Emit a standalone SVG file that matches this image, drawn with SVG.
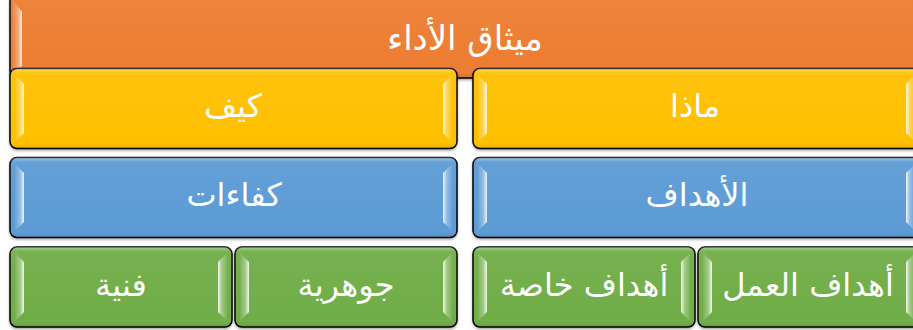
<svg xmlns="http://www.w3.org/2000/svg" width="913" height="330" viewBox="0 0 913 330">
<defs>
<linearGradient id="sheen" x1="0" y1="0" x2="0" y2="1">
<stop offset="0" stop-color="#fff" stop-opacity="0.4"/>
<stop offset="0.06" stop-color="#fff" stop-opacity="0.05"/>
<stop offset="0.9" stop-color="#fff" stop-opacity="0"/>
<stop offset="1" stop-color="#000" stop-opacity="0.12"/>
</linearGradient>
<linearGradient id="bevL" x1="0" y1="0" x2="1" y2="0">
<stop offset="0" stop-color="#fff" stop-opacity="0.05"/>
<stop offset="0.6" stop-color="#fff" stop-opacity="0.35"/>
<stop offset="1" stop-color="#fff" stop-opacity="0.9"/>
</linearGradient>
<linearGradient id="bevR" x1="1" y1="0" x2="0" y2="0">
<stop offset="0" stop-color="#fff" stop-opacity="0.05"/>
<stop offset="0.6" stop-color="#fff" stop-opacity="0.35"/>
<stop offset="1" stop-color="#fff" stop-opacity="0.9"/>
</linearGradient>
<filter id="sh" x="-5%" y="-10%" width="110%" height="130%">
<feDropShadow dx="0" dy="1.5" stdDeviation="1.2" flood-color="#000" flood-opacity="0.35"/>
</filter>
</defs>
<style>
.box{stroke:#000;stroke-width:1.5;filter:url(#sh)}
.orange{fill:#ED7D31}
.yellow{fill:#FFC000}
.blue{fill:#5B9BD5}
.green{fill:#70AD47}
.sheen{fill:url(#sheen);stroke:none}
.bl{fill:url(#bevL)}
.br{fill:url(#bevR)}
text{font-family:"DejaVu Sans","Noto Sans",sans-serif;fill:#fff;text-anchor:middle;dominant-baseline:central}
.t1{font-size:34px}
.t2{font-size:32px}
</style>
<g id="n-top">
<rect class="box orange" x="10" y="-6" width="910" height="84" rx="7"/>
<rect class="sheen" x="10" y="-6" width="910" height="84" rx="7"/>
<polygon class="bl" points="13,0 22,12 22,66 13,74"/>
<text class="t1" x="465" y="38" direction="rtl">ميثاق الأداء</text>
</g>
<g id="n-kaif">
<rect class="box yellow" x="10" y="68.5" width="447" height="80" rx="7"/>
<rect class="sheen" x="10" y="68.5" width="447" height="80" rx="7"/>
<polygon class="bl" points="15,75 24,84 24,133 15,142"/>
<polygon class="br" points="452,75 443,84 443,133 452,142"/>
<text class="t2" x="233" y="106" direction="rtl">كيف</text>
</g>
<g id="n-matha">
<rect class="box yellow" x="473" y="68.5" width="447" height="80" rx="7"/>
<rect class="sheen" x="473" y="68.5" width="447" height="80" rx="7"/>
<polygon class="bl" points="478,75 487,84 487,133 478,142"/>
<polygon class="br" points="915,75 906,84 906,133 915,142"/>
<text class="t2" x="695" y="106" direction="rtl">ماذا</text>
</g>
<g id="n-kafaat">
<rect class="box blue" x="10" y="157.5" width="447" height="80" rx="7"/>
<rect class="sheen" x="10" y="157.5" width="447" height="80" rx="7"/>
<polygon class="bl" points="15,164 24,173 24,222 15,231"/>
<polygon class="br" points="452,164 443,173 443,222 452,231"/>
<text class="t2" x="234" y="195" direction="rtl">كفاءات</text>
</g>
<g id="n-ahdaf">
<rect class="box blue" x="473" y="157.5" width="447" height="80" rx="7"/>
<rect class="sheen" x="473" y="157.5" width="447" height="80" rx="7"/>
<polygon class="bl" points="478,164 487,173 487,222 478,231"/>
<polygon class="br" points="915,164 906,173 906,222 915,231"/>
<text class="t2" x="697" y="195" direction="rtl">الأهداف</text>
</g>
<g id="n-fanniya">
<rect class="box green" x="10" y="247" width="222" height="80" rx="7"/>
<rect class="sheen" x="10" y="247" width="222" height="80" rx="7"/>
<polygon class="bl" points="15,253 24,262 24,312 15,321"/>
<polygon class="br" points="227,253 218,262 218,312 227,321"/>
<text class="t2" x="121" y="285" direction="rtl">فنية</text>
</g>
<g id="n-jawhariya">
<rect class="box green" x="235" y="247" width="222" height="80" rx="7"/>
<rect class="sheen" x="235" y="247" width="222" height="80" rx="7"/>
<polygon class="bl" points="240,253 249,262 249,312 240,321"/>
<polygon class="br" points="452,253 443,262 443,312 452,321"/>
<text class="t2" x="346" y="285" direction="rtl">جوهرية</text>
</g>
<g id="n-khassa">
<rect class="box green" x="473" y="247" width="222" height="80" rx="7"/>
<rect class="sheen" x="473" y="247" width="222" height="80" rx="7"/>
<polygon class="bl" points="478,253 487,262 487,312 478,321"/>
<polygon class="br" points="690,253 681,262 681,312 690,321"/>
<text class="t2" x="584" y="285" direction="rtl">أهداف خاصة</text>
</g>
<g id="n-amal">
<rect class="box green" x="698" y="247" width="222" height="80" rx="7"/>
<rect class="sheen" x="698" y="247" width="222" height="80" rx="7"/>
<polygon class="bl" points="703,253 712,262 712,312 703,321"/>
<polygon class="br" points="915,253 906,262 906,312 915,321"/>
<text class="t2" x="808" y="285" direction="rtl">أهداف العمل</text>
</g>
<g id="connectors"/>
</svg>
